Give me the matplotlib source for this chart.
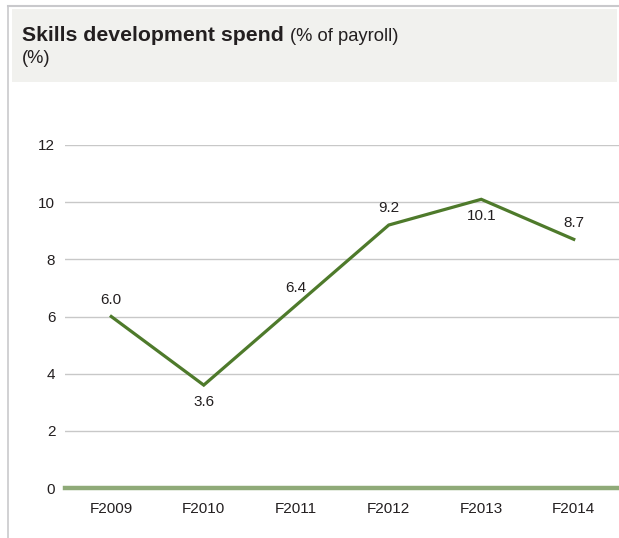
import numpy as np
import matplotlib.pyplot as plt
from matplotlib.patches import Rectangle
from matplotlib.lines import Line2D

plt.rcParams['font.family'] = ['Liberation Sans', 'DejaVu Sans']

# Skills development spend, % of payroll
years = ["F2009", "F2010", "F2011", "F2012", "F2013", "F2014"]
spend = [6.0, 3.6, 6.4, 9.2, 10.1, 8.7]
label_pos = ["above", "below", "above", "above", "below", "above"]
yticks = [0, 2, 4, 6, 8, 10, 12]

W, H = 619, 538
fig = plt.figure(figsize=(W / 100, H / 100), dpi=100)

# frame lines and header band
fig.add_artist(Line2D([8 / W, 1], [1 - 5.5 / H, 1 - 5.5 / H], color="#c9c9cc", lw=1.5))
fig.add_artist(Line2D([8 / W, 8 / W], [0, 1 - 5.5 / H], color="#c9c9cc", lw=1.2))
fig.add_artist(Rectangle((12 / W, 1 - 82 / H), (617 - 12) / W, 73 / H,
                         transform=fig.transFigure, facecolor="#f1f1ee", edgecolor="none"))

t1 = fig.text(22 / W, 1 - 41 / H, "Skills development spend", fontsize=15.3,
              fontweight="bold", color="#231f20", va="baseline")
fig.canvas.draw()
bb = t1.get_window_extent()
fig.text(bb.x1 / W + 6 / W, 1 - 41 / H, "(% of payroll)", fontsize=13.2,
         color="#231f20", va="baseline")
fig.text(22 / W, 1 - 63 / H, "(%)", fontsize=13.2, color="#231f20", va="baseline")

ax = fig.add_axes([65 / W, 50 / H, 555 / W, 343 / H])
x = np.arange(len(years))

for yv in yticks[1:]:
    ax.axhline(yv, color="#c8c8c8", lw=1.0, zorder=1)
ax.axhline(0, color="#8faa78", lw=3.2, zorder=2, clip_on=False)

ax.plot(x, spend, color="#4e7a2b", lw=2.3, zorder=3, solid_joinstyle="miter")

for xi, v, pos in zip(x, spend, label_pos):
    if pos == "above":
        ax.annotate(f"{v:.1f}", (xi, v), xytext=(0, 7), textcoords="offset points",
                    ha="center", va="bottom", fontsize=11, color="#231f20")
    else:
        ax.annotate(f"{v:.1f}", (xi, v), xytext=(0, -7), textcoords="offset points",
                    ha="center", va="top", fontsize=11, color="#231f20")

ax.set_xlim(-0.5, 5.5)
ax.set_ylim(0, 12)
ax.set_xticks(x)
ax.set_xticklabels(years)
ax.set_yticks(yticks)
ax.tick_params(length=0, labelsize=11, colors="#231f20")
ax.tick_params(axis="y", pad=7)
ax.tick_params(axis="x", pad=10)
for s in ax.spines.values():
    s.set_visible(False)
ax.patch.set_alpha(0)

fig.savefig("out.png", dpi=100)
